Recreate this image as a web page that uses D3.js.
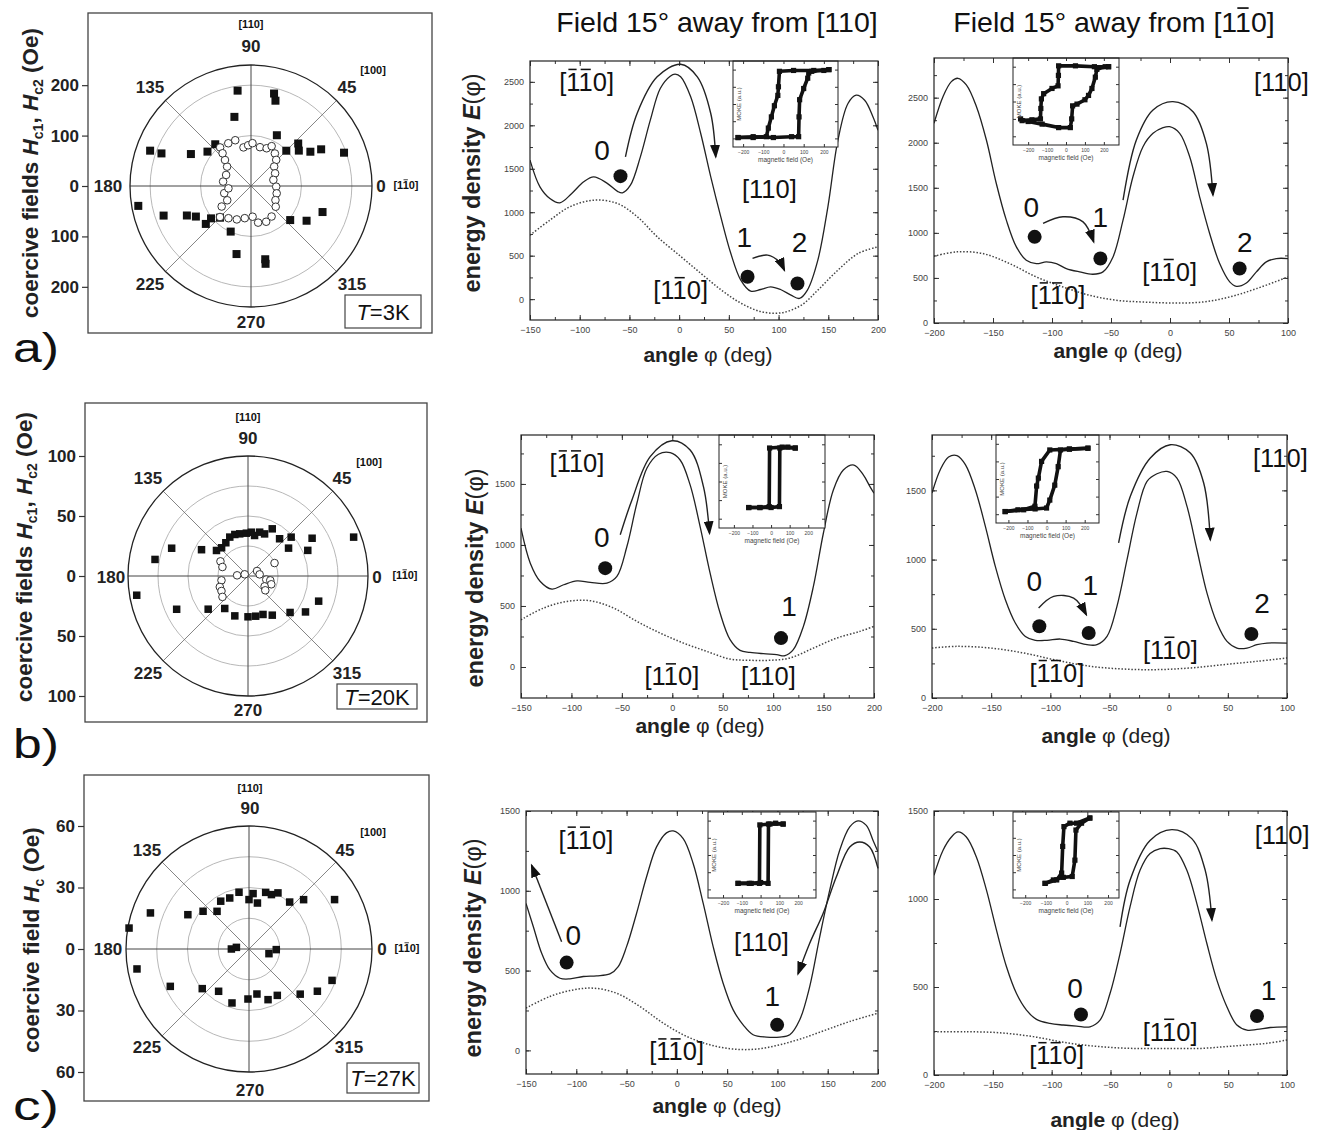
<!DOCTYPE html>
<html><head><meta charset="utf-8">
<script src="https://cdn.jsdelivr.net/npm/d3@7"></script>
<style>body{margin:0;background:#fff}</style>
</head><body><div id="chart"></div>
<script>
const FONT = "'Liberation Sans', Arial, Helvetica, sans-serif";

// ---- polar plots: [field angle (deg), coercive field (Oe)] ----
const hcA_sq = [[98,191],[76,189],[74,176],[103.5,141],[63,113],[130.6,109],[42,126],[45,99],[36.5,118],[30,136],[27.6,157],[19.7,196],[160.7,212],[160,189],[152,135],[141.7,110],[190,227],[198.7,183],[204.7,140],[209,125],[220,117],[219,102],[225.6,88],[246,99],[258,138],[281,148],[280.6,157],[319,103],[328,130],[340,151]];
const hcA_ci = [[128.7,98],[118,96],[109,96],[101,78],[94,81],[88,85],[77,79],[67.5,81],[62.6,89],[53.7,80],[46,72],[40,60],[27.7,54],[15.3,46],[358.5,50],[344,53],[330,56],[320,64],[304,73],[293,77],[281,74],[273,61],[259,65],[247,72],[235,78],[225,87],[215,71],[211,55],[195,55],[186,45],[171,56],[156,54],[141,61],[135,73],[131,86]];
const hcB_sq = [[141,33.8],[133.1,32.2],[123.7,33.3],[115.1,35.8],[107.6,36.3],[101.1,35.8],[92.2,35.7],[85.6,36.6],[80.8,34.2],[75.1,37.8],[68.5,37.7],[62.8,44.2],[49.7,40.7],[42,48.4],[34.5,41],[23.2,54.2],[30.5,62],[20.2,93.8],[150.5,44.5],[160,67.7],[169.9,78.7],[189.8,94.1],[205,65.6],[219.8,43.2],[234.4,33.3],[251.7,35],[270,34],[280.8,34.1],[291.3,34.4],[301.8,38.4],[319.1,46.4],[328,56.5],[340.4,62.5]];
const hcB_ci = [[152,26],[160.6,22.6],[189.3,22.4],[201.2,25.2],[209.5,25.4],[219.3,27.5],[176.5,9.1],[153,3.1],[29,8.6],[8,9.8],[349,15.5],[349,18.9],[340.4,20.6],[328,16.3],[320.4,18.7],[26,24.6]];
const hcC_sq = [[170.1,59.4],[159.9,51.2],[150.7,34.2],[140.6,29],[130.3,24.1],[120.6,27.1],[110.7,26.6],[100,28.1],[90,24.1],[85.8,27.1],[79.6,22.8],[73.6,28.8],[67.6,28.7],[62.7,30.8],[49.1,30.3],[42.1,35.9],[30,48.2],[190.1,55.5],[205.4,42.5],[220.3,29.9],[234.3,25.4],[252.5,27.6],[268.8,24.4],[280,22.3],[290.6,26.4],[301.4,26.5],[318.6,33.3],[328.3,39.2],[339.3,43.3],[180,8.6],[172.6,6.2],[346.8,10],[358.7,13.3]];
const ringsA = [100,200], ringsB = [25,50,75], ringsC = [15,30,45];
const yticksA = [200,100,0,-100,-200], yticksB = [100,50,0,-50,-100], yticksC = [60,30,0,-30,-60];

// ---- energy density curves: [angle phi (deg), E] ----
const xticksMid = [-150,-100,-50,0,50,100,150,200];
const xticksRight = [-200,-150,-100,-50,0,50,100];
const yticksTop = [0,500,1000,1500,2000,2500];
const yticksLow = [0,500,1000,1500];

const solidA1 = [[-150,1600],[-140,1292],[-130,1158],[-120,1108],[-108,1216],[-96,1350],[-86,1407],[-73,1338],[-62,1240],[-57,1223],[-49,1311],[-39,1637],[-29,2059],[-19,2423],[-9,2565],[-4,2588],[1.5,2558],[11.6,2328],[21.7,1906],[31.8,1407],[41.9,947],[52,525],[62,219],[72,92],[82,111],[92,142],[102,111],[112.5,46],[121,8],[129,104],[139.5,449],[149.6,1062],[159.7,1829],[169.8,2251],[178,2347],[186.6,2289],[195,2097],[200,1944]];
const dotA1 = [[-150,736],[-130,909],[-110,1062],[-86,1139],[-62,1100],[-42,947],[-22,717],[2,487],[22,295],[42.5,104],[62.7,-50],[83,-146],[103,-157],[123,-69],[139.5,104],[159.7,334],[180,525],[200,602]];
const arrowsA1 = [[[-54,1637],[-42.3,2136],[-22.1,2558],[1.5,2703],[18.3,2558],[31.8,2136],[36.8,1637]],[[73.8,468],[89,506],[100.7,430],[105.8,334]]];
const statesA1 = [{n:"0",p:[-59,1415],l:[-77.6,1714]},{n:"1",p:[68.8,257],l:[65.5,717]},{n:"2",p:[119,180],l:[121,660]}];
const dirsA1 = [{c:"-1-10",p:[-93,2500]},{c:"110",p:[90.7,1273]},{c:"1-10",p:[1.5,104]}];

const solidA2 = [[-200,2215],[-192.4,2511],[-185.3,2678],[-179.7,2715],[-172.6,2641],[-164,2400],[-155.6,2030],[-147.2,1548],[-138.7,1141],[-130.2,844],[-121.8,696],[-113.3,659],[-104.8,678],[-96.3,659],[-87.9,604],[-76.6,567],[-65.3,541],[-56.8,567],[-48.3,733],[-39.8,1141],[-31.4,1622],[-22.9,1956],[-14.4,2104],[-5.9,2167],[-0.3,2178],[8.2,2104],[16.7,1844],[25.1,1400],[33.6,993],[42.1,659],[50.6,456],[56.2,407],[64.7,444],[73.2,567],[81.6,678],[90.1,715],[100,715]];
const dotA2 = [[-200,741],[-181,789],[-158.5,770],[-135.9,659],[-113.3,511],[-90.7,400],[-68,307],[-45.5,252],[-22.9,233],[2.5,222],[28,233],[50.6,289],[73.2,381],[100,511]];
const arrowsA2 = [[[-39.8,1363],[-28.5,2030],[-14.4,2363],[2.5,2456],[19.5,2344],[30.8,1993],[36.4,1419]],[[-107.6,1104],[-90.7,1178],[-73.7,1122],[-64.7,900]]];
const statesA2 = [{n:"0",p:[-114.7,956],l:[-117.5,1289]},{n:"1",p:[-59,715],l:[-59,1178]},{n:"2",p:[59,604],l:[63.3,900]}];
const dirsA2 = [{c:"110",p:[94.4,2678]},{c:"1-10",p:[-0.3,567]},{c:"-1-10",p:[-94.9,307]}];

const solidB1 = [[-150,1137],[-140.8,851],[-130.9,701],[-119.3,638],[-107.7,674],[-94.5,706],[-81.3,693],[-64.8,687],[-54.9,742],[-45,987],[-35.1,1342],[-25.2,1628],[-13.7,1743],[-2.1,1756],[7.8,1696],[17.7,1492],[27.6,1151],[37.5,769],[47.4,442],[57.3,224],[67.2,136],[77.1,120],[90.3,109],[103.5,101],[111.8,93],[120,142],[130,333],[139.9,660],[149.8,1096],[159.7,1451],[169.6,1614],[180.1,1655],[189.4,1574],[196,1478],[200,1424]];
const dotB1 = [[-150,387],[-127.6,483],[-104.4,537],[-81.3,543],[-58.2,483],[-35.1,374],[-12,278],[11.1,196],[34.2,128],[57.3,65],[77.1,55],[96.9,55],[116.7,74],[139.9,155],[163,237],[186.1,292],[200,333]];
const arrowsB1 = [[[-51.6,1083],[-40,1369],[-21.9,1724],[-0.4,1854],[17.7,1778],[30.9,1478],[36.9,1096]]];
const statesB1 = [{n:"0",p:[-66.5,810],l:[-69.8,1069]},{n:"1",p:[107.8,237],l:[115.7,496]}];
const dirsB1 = [{c:"-1-10",p:[-94.5,1669]},{c:"1-10",p:[-0.4,-76]},{c:"110",p:[95.3,-76]}];

const solidB2 = [[-200,1481],[-193,1649],[-186,1741],[-178.9,1751],[-171.8,1686],[-163.4,1505],[-154.9,1240],[-146.5,951],[-138,710],[-129.6,542],[-121.1,445],[-112.7,417],[-102.8,417],[-91.5,426],[-80.3,409],[-69,385],[-60.6,385],[-52.1,445],[-43.7,662],[-35.2,999],[-26.8,1336],[-18.3,1565],[-9.9,1620],[-1.4,1637],[7,1589],[15.5,1384],[23.9,1071],[32.4,758],[40.8,542],[49.3,409],[57.7,361],[66.2,361],[74.6,385],[83.1,397],[100,397]];
const dotB2 = [[-200,361],[-178.9,373],[-150.7,361],[-122.5,325],[-94.4,272],[-66.2,229],[-38,209],[-9.9,205],[18.3,217],[46.5,241],[74.6,265],[100,289]];
const arrowsB2 = [[[-42.3,1120],[-32.4,1457],[-15.5,1734],[1.4,1830],[18.3,1770],[29.6,1553],[35.2,1144]],[[-109.9,650],[-97.2,734],[-80.3,722],[-69.6,602]]];
const statesB2 = [{n:"0",p:[-109.3,518],l:[-113.5,843]},{n:"1",p:[-67.6,470],l:[-66.2,819]},{n:"2",p:[69.9,462],l:[78.9,686]}];
const dirsB2 = [{c:"110",p:[94.4,1734]},{c:"1-10",p:[1.4,349]},{c:"-1-10",p:[-94.4,181]}];

const solidC1 = [[-150,921],[-142.7,775],[-134.4,608],[-126.2,504],[-116.2,452],[-106.3,448],[-93,463],[-79.8,467],[-66.6,479],[-58.3,525],[-50,650],[-40.1,858],[-30.1,1088],[-20.2,1275],[-10.3,1363],[-3.6,1375],[6.3,1327],[16.2,1171],[26.2,921],[36.1,650],[46,421],[56,254],[65.9,160],[75.8,98],[89.1,83],[102.3,83],[112.3,98],[122.2,192],[132.1,400],[142.1,713],[152,1004],[161.9,1254],[171.9,1400],[180.1,1438],[188.4,1410],[195,1317],[200,1244]];
const dotC1 = [[-150,265],[-126.2,338],[-103,379],[-83.1,390],[-59.9,358],[-36.8,275],[-13.6,171],[9.6,88],[32.8,35],[56,8],[79.1,8],[102.3,35],[125.5,77],[148.7,129],[171.9,181],[200,233]];
const arrowsC1 = [[[200,1140],[191.7,1275],[181.8,1306],[171.9,1275],[158.6,1088],[145.4,858],[132.1,671],[120.5,480]],[[-114.6,681],[-144.4,1160]]];
const statesC1 = [{n:"0",p:[-109.6,550],l:[-103,723]},{n:"1",p:[99.7,160],l:[95,338]}];
const dirsC1 = [{c:"-1-10",p:[-90.4,1321]},{c:"110",p:[84.1,681]},{c:"-1-10",p:[-0.3,-6]}];

const solidC2 = [[-200,1135],[-192.3,1277],[-185.2,1352],[-179.6,1381],[-172.5,1352],[-164,1239],[-155.4,1050],[-146.9,823],[-138.4,615],[-129.9,463],[-121.4,369],[-112.9,316],[-101.5,293],[-90.2,284],[-78.8,278],[-67.4,274],[-58.9,312],[-50.4,463],[-41.9,690],[-33.4,955],[-24.9,1163],[-16.4,1258],[-7.8,1286],[-0.7,1286],[6.4,1267],[14.9,1163],[23.4,974],[31.9,747],[40.4,539],[48.9,388],[57.4,284],[66,255],[74.5,259],[85.8,270],[100,274]];
const dotC2 = [[-200,246],[-172.5,246],[-144.1,240],[-115.7,218],[-87.3,183],[-58.9,161],[-30.5,151],[-2.2,151],[26.2,151],[54.6,165],[83,180],[100,199]];
const arrowsC2 = [[[-41.9,842],[-33.4,1107],[-16.4,1333],[2.1,1394],[19.1,1343],[30.5,1163],[36.2,880]]];
const statesC2 = [{n:"0",p:[-75.1,344],l:[-80.2,492]},{n:"1",p:[74.5,335],l:[84.4,482]}];
const dirsC2 = [{c:"110",p:[95.8,1362]},{c:"1-10",p:[0.7,246]},{c:"-1-10",p:[-95.8,113]}];

// ---- MOKE hysteresis insets: [field (Oe), signal (a.u.)], up and down branches ----
const loopA1 = [[[-225,0.11],[-150,0.12],[-50,0.11],[40,0.12],[75,0.12],[77,0.35],[80,0.55],[100,0.68],[120,0.8],[125,0.86],[140,0.88],[200,0.89],[225,0.9]],
                [[225,0.9],[150,0.89],[50,0.89],[-20,0.88],[-25,0.7],[-28,0.6],[-45,0.48],[-60,0.35],[-75,0.22],[-85,0.12],[-150,0.11],[-225,0.11]]];
const loopA2 = [[[-240,0.3],[-200,0.27],[-126,0.24],[-39,0.2],[23,0.2],[30,0.3],[35,0.45],[58,0.47],[100,0.52],[119,0.57],[137,0.65],[155,0.78],[163,0.87],[207,0.9],[225,0.9]],
                [[225,0.9],[150,0.9],[50,0.91],[-39,0.91],[-40,0.8],[-42,0.68],[-74,0.65],[-118,0.59],[-130,0.53],[-133,0.42],[-135,0.3],[-180,0.29],[-232,0.28]]];
const loopB1 = [[[-120,0.22],[-60,0.22],[0,0.22],[45,0.23],[47,0.86],[90,0.87],[130,0.86]],
                [[130,0.86],[60,0.87],[-8,0.86],[-10,0.23],[-60,0.22],[-120,0.22]]];
const loopB2 = [[[-217,0.13],[-150,0.15],[-60,0.16],[0,0.17],[17,0.26],[43,0.43],[61,0.64],[73,0.83],[120,0.84],[217,0.85]],
                [[217,0.85],[120,0.84],[17,0.83],[-26,0.7],[-43,0.51],[-52,0.42],[-61,0.19],[-120,0.15],[-217,0.13]]];
const loopC1 = [[[-120,0.17],[-50,0.17],[0,0.18],[40,0.17],[42,0.86],[80,0.87],[120,0.86]],
                [[120,0.86],[50,0.86],[-4,0.85],[-6,0.17],[-60,0.17],[-120,0.17]]];
const loopC2 = [[[-104,0.17],[-64,0.21],[-16,0.24],[27,0.25],[40,0.44],[45,0.79],[72,0.87],[112,0.93]],
                [[112,0.93],[48,0.87],[16,0.87],[-13,0.83],[-19,0.6],[-24,0.29],[-48,0.21],[-104,0.17]]];
const loopTicks = [-200,-100,0,100,200];

const svg = d3.select("#chart").append("svg").attr("width",1330).attr("height",1130)
  .style("background","#fff").attr("font-family",FONT);
const defs = svg.append("defs");
defs.append("marker").attr("id","head").attr("viewBox","0 0 14 10").attr("refX",12).attr("refY",5)
  .attr("markerWidth",14).attr("markerHeight",10).attr("markerUnits","userSpaceOnUse").attr("orient","auto")
  .append("path").attr("d","M0,0L14,5L0,10Z").attr("fill","#111");

// text like [1-10] with bars over the negative indices
function miller(g, x, y, code, size, o={}){
  let s = (o.prefix||"") + "[", bars = [];
  for(const ch of code){ if(ch==="-"){ bars.push(s.length); } else s += ch; }
  s += "]";
  const t = g.append("text").attr("x",x).attr("y",y).attr("font-size",size)
    .attr("text-anchor",o.anchor||"middle").attr("font-weight",o.weight||"normal").attr("fill","#111").text(s);
  const n = t.node();
  bars.forEach(i=>{
    const a = n.getStartPositionOfChar(i), b = n.getEndPositionOfChar(i);
    g.append("line").attr("x1",a.x+size*0.08).attr("x2",b.x-size*0.08)
      .attr("y1",y-size*0.84).attr("y2",y-size*0.84).attr("stroke","#111").attr("stroke-width",Math.max(0.8,size*0.06));
  });
}

function polarPanel(p){
  const g = svg.append("g");
  const r = d3.scaleLinear().domain([0,p.outer]).range([0,p.R]);
  const px = d=>p.cx + r(d[1])*Math.cos(d[0]*Math.PI/180);
  const py = d=>p.cy - r(d[1])*Math.sin(d[0]*Math.PI/180);
  g.append("rect").attr("x",p.box[0]).attr("y",p.box[1]).attr("width",p.box[2]-p.box[0]).attr("height",p.box[3]-p.box[1])
    .attr("fill","#fff").attr("stroke","#444").attr("stroke-width",1.3);
  g.selectAll(".ring").data(p.rings).enter().append("circle").attr("cx",p.cx).attr("cy",p.cy).attr("r",d=>r(d))
    .attr("fill","none").attr("stroke","#b8b8b8").attr("stroke-width",1);
  [0,45,90,135].forEach(a=>{
    const c = Math.cos(a*Math.PI/180)*p.R, s = Math.sin(a*Math.PI/180)*p.R;
    g.append("line").attr("x1",p.cx-c).attr("y1",p.cy+s).attr("x2",p.cx+c).attr("y2",p.cy-s)
      .attr("stroke",a%90===0?"#444":"#666").attr("stroke-width",a%90===0?1:0.8);
  });
  g.append("circle").attr("cx",p.cx).attr("cy",p.cy).attr("r",p.R).attr("fill","none").attr("stroke","#222").attr("stroke-width",1.3);
  g.selectAll(".sq").data(p.sq).enter().append("rect")
    .attr("x",d=>px(d)-p.ms/2).attr("y",d=>py(d)-p.ms/2).attr("width",p.ms).attr("height",p.ms).attr("fill","#111");
  g.selectAll(".ci").data(p.ci||[]).enter().append("circle").attr("cx",px).attr("cy",py).attr("r",3.8)
    .attr("fill","#fff").attr("stroke","#333").attr("stroke-width",1);
  // left radial axis
  const ys = d3.scaleLinear().domain([-p.outer,p.outer]).range([p.cy+p.R,p.cy-p.R]);
  const ax = g.append("g").attr("transform",`translate(${p.box[0]},0)`)
    .call(d3.axisLeft(ys).tickValues(p.yt).tickSize(6).tickSizeOuter(0).tickPadding(3).tickFormat(d=>Math.abs(d)));
  ax.select(".domain").remove();
  ax.selectAll("line").attr("stroke","#333").attr("stroke-width",1.2);
  ax.selectAll("text").attr("font-size",17).attr("font-weight","bold").attr("fill","#222").attr("font-family",FONT);
  // angle labels
  const lab = (t,x,y,fs)=>g.append("text").attr("x",x).attr("y",y).attr("text-anchor","middle").attr("dominant-baseline","central")
    .attr("font-size",fs).attr("font-weight","bold").attr("fill","#222").text(t);
  p.angleLabels.forEach(d=>lab(d[0],d[1],d[2],17));
  miller(g,p.dir90[0],p.dir90[1]+4,"110",11,{weight:"bold"});
  miller(g,p.dir45[0],p.dir45[1]+4,"100",11,{weight:"bold"});
  miller(g,p.dir0[0],p.dir0[1]+4,"1-10",11,{weight:"bold"});
  // temperature box
  const tb = p.tbox;
  g.append("rect").attr("x",tb[0]).attr("y",tb[1]).attr("width",tb[2]-tb[0]).attr("height",tb[3]-tb[1]).attr("fill","#fff").attr("stroke","#444").attr("stroke-width",1.2);
  const tt = g.append("text").attr("x",(tb[0]+tb[2])/2).attr("y",(tb[1]+tb[3])/2+8).attr("text-anchor","middle").attr("font-size",22).attr("fill","#111");
  tt.append("tspan").attr("font-style","italic").text("T");
  tt.append("tspan").text("="+p.T);
  // y title
  const t = g.append("text").attr("transform",`translate(${p.title[0]},${p.title[1]}) rotate(-90)`).attr("text-anchor","middle")
    .attr("font-size",22.5).attr("font-weight","bold").attr("fill","#222").attr("dy",8);
  if(p.two){
    t.append("tspan").text("coercive fields ");
    t.append("tspan").attr("font-style","italic").text("H");
    t.append("tspan").attr("font-size",14).attr("dy",5).text("c1");
    t.append("tspan").attr("dy",-5).text(", ");
    t.append("tspan").attr("font-style","italic").text("H");
    t.append("tspan").attr("font-size",14).attr("dy",5).text("c2");
    t.append("tspan").attr("dy",-5).text(" (Oe)");
  } else {
    t.append("tspan").text("coercive field ");
    t.append("tspan").attr("font-style","italic").text("H");
    t.append("tspan").attr("font-size",14).attr("dy",5).text("c");
    t.append("tspan").attr("dy",-5).text(" (Oe)");
  }
  svg.append("text").attr("x",p.letter[0]).attr("y",p.letter[1]).attr("font-size",40).attr("fill","#111")
    .attr("textLength",46).attr("lengthAdjust","spacingAndGlyphs").text(p.letterText);
}

function inset(g, b, xd, loop){
  const x = d3.scaleLinear().domain(xd).range([b[0],b[2]]);
  const y = d3.scaleLinear().domain([0,1]).range([b[3],b[1]]);
  g.append("rect").attr("x",b[0]).attr("y",b[1]).attr("width",b[2]-b[0]).attr("height",b[3]-b[1]).attr("fill","#fff").attr("stroke","#222").attr("stroke-width",1);
  const yt = [0.1,0.3,0.5,0.7,0.9];
  const tk = (axis,tr)=>{const a=g.append("g").attr("transform",tr).call(axis); a.select(".domain").remove(); a.selectAll("line").attr("stroke","#333"); return a;};
  const bx = tk(d3.axisBottom(x).tickValues(loopTicks).tickSize(-3).tickPadding(3).tickFormat(d3.format("d")),`translate(0,${b[3]})`);
  bx.selectAll("text").attr("font-size",5).attr("fill","#444").attr("font-family",FONT);
  tk(d3.axisTop(x).tickValues(loopTicks).tickSize(-3).tickFormat(""),`translate(0,${b[1]})`);
  tk(d3.axisLeft(y).tickValues(yt).tickSize(-3).tickFormat(""),`translate(${b[0]},0)`);
  tk(d3.axisRight(y).tickValues(yt).tickSize(-3).tickFormat(""),`translate(${b[2]},0)`);
  const ln = d3.line().x(d=>x(d[0])).y(d=>y(d[1]));
  loop.forEach(br=>{
    g.append("path").datum(br).attr("d",ln).attr("fill","none").attr("stroke","#111").attr("stroke-width",3.6).attr("stroke-linejoin","round");
    g.selectAll(null).data(br).enter().append("rect").attr("x",d=>x(d[0])-2.6).attr("y",d=>y(d[1])-2.6).attr("width",5.2).attr("height",5.2).attr("fill","#111");
  });
  g.append("text").attr("x",(b[0]+b[2])/2).attr("y",b[3]+15).attr("text-anchor","middle").attr("font-size",6.5).attr("fill","#444").text("magnetic field (Oe)");
  g.append("text").attr("transform",`translate(${b[0]+8},${(b[1]+b[3])/2}) rotate(-90)`).attr("text-anchor","middle").attr("font-size",6).attr("fill","#444").text("MOKE (a.u.)");
}

function energyPanel(p){
  const g = svg.append("g");
  const x = d3.scaleLinear().domain(p.xd).range([p.x0,p.x1]);
  const y = d3.scaleLinear().domain(p.yd).range([p.y1,p.y0]);
  const id = "clip"+p.id;
  defs.append("clipPath").attr("id",id).append("rect").attr("x",p.x0).attr("y",p.y0).attr("width",p.x1-p.x0).attr("height",p.y1-p.y0);
  const ax = (axis,tr)=>{const a=g.append("g").attr("transform",tr).call(axis); a.select(".domain").remove();
    a.selectAll("line").attr("stroke","#333"); a.selectAll("text").attr("font-size",9).attr("fill","#444").attr("font-family",FONT); return a;};
  const minX = d3.range(p.xt[0],p.xd[1]+1,25), minY = d3.range(0,p.yd[1],250);
  ax(d3.axisBottom(x).tickValues(p.xt).tickSize(-5).tickPadding(7).tickFormat(d3.format("d")),`translate(0,${p.y1})`);
  ax(d3.axisBottom(x).tickValues(minX).tickSize(-3).tickFormat(""),`translate(0,${p.y1})`);
  ax(d3.axisTop(x).tickValues(p.xt).tickSize(-5).tickFormat(""),`translate(0,${p.y0})`);
  ax(d3.axisTop(x).tickValues(minX).tickSize(-3).tickFormat(""),`translate(0,${p.y0})`);
  ax(d3.axisLeft(y).tickValues(p.yt).tickSize(-5).tickPadding(6).tickFormat(d3.format("d")),`translate(${p.x0},0)`);
  ax(d3.axisLeft(y).tickValues(minY).tickSize(-3).tickFormat(""),`translate(${p.x0},0)`);
  ax(d3.axisRight(y).tickValues(p.yt).tickSize(-5).tickFormat(""),`translate(${p.x1},0)`);
  ax(d3.axisRight(y).tickValues(minY).tickSize(-3).tickFormat(""),`translate(${p.x1},0)`);

  const line = d3.line().x(d=>x(d[0])).y(d=>y(d[1])).curve(d3.curveCatmullRom.alpha(0.5));
  const cg = g.append("g").attr("clip-path",`url(#${id})`);
  cg.append("path").datum(p.dotted).attr("d",line).attr("fill","none").attr("stroke","#444").attr("stroke-width",1.5).attr("stroke-dasharray","1.5,1.8");
  cg.append("path").datum(p.solid).attr("d",line).attr("fill","none").attr("stroke","#222").attr("stroke-width",1.3);
  p.arrows.forEach(a=>g.append("path").datum(a).attr("d",line).attr("fill","none").attr("stroke","#222").attr("stroke-width",1.4).attr("marker-end","url(#head)"));
  p.states.forEach(s=>{
    g.append("circle").attr("cx",x(s.p[0])).attr("cy",y(s.p[1])).attr("r",7).attr("fill","#111");
    g.append("text").attr("x",x(s.l[0])).attr("y",y(s.l[1])+10).attr("text-anchor","middle").attr("font-size",28).attr("fill","#111").text(s.n);
  });
  p.dirs.forEach(d=>miller(g,x(d.p[0]),y(d.p[1])+9,d.c,25.5));
  inset(g,p.inset,p.loopX,p.loop);
  g.append("rect").attr("x",p.x0).attr("y",p.y0).attr("width",p.x1-p.x0).attr("height",p.y1-p.y0).attr("fill","none").attr("stroke","#222").attr("stroke-width",1.2);
  // axis titles
  const xt = g.append("text").attr("x",p.xl[0]).attr("y",p.xl[1]).attr("text-anchor","middle").attr("font-size",21).attr("fill","#222");
  xt.append("tspan").attr("font-weight","bold").text("angle ");
  xt.append("tspan").text("\u03C6 (deg)");
  if(p.yl){
    const yt = g.append("text").attr("transform",`translate(${p.yl[0]},${p.yl[1]}) rotate(-90)`).attr("text-anchor","middle")
      .attr("dy",8).attr("font-size",23.5).attr("font-weight","bold").attr("fill","#222");
    yt.append("tspan").text("energy density ");
    yt.append("tspan").attr("font-style","italic").text("E");
    yt.append("tspan").attr("font-weight","normal").text("(\u03C6)");
  }
}

polarPanel({box:[88,13,432,333],cx:251,cy:186,R:121,outer:240,rings:ringsA,sq:hcA_sq,ci:hcA_ci,ms:8,yt:yticksA,
  angleLabels:[["90",251,46],["135",150,87],["45",347,87],["180",108,186],["0",381,186],["225",150,284],["315",352,284],["270",251,322]],
  dir90:[251,24],dir45:[373,70],dir0:[406,185],tbox:[345,295,421,328],T:"3K",title:[30,173],two:true,letter:[13,362],letterText:"a)"});
polarPanel({box:[85,403,427,722],cx:248,cy:576,R:120,outer:100,rings:ringsB,sq:hcB_sq,ci:hcB_ci,ms:7.5,yt:yticksB,
  angleLabels:[["90",248,438],["135",148,478],["45",342,478],["180",111,577],["0",377,577],["225",148,673],["315",347,673],["270",248,710]],
  dir90:[248,417],dir45:[369,462],dir0:[405,575],tbox:[337,684,417,709],T:"20K",title:[24,557],two:true,letter:[13,758],letterText:"b)"});
polarPanel({box:[84,775,429,1101],cx:249,cy:949,R:123,outer:60,rings:ringsC,sq:hcC_sq,ci:[],ms:7.5,yt:yticksC,
  angleLabels:[["90",250,808],["135",147,850],["45",345,850],["180",108,949],["0",382,949],["225",147,1047],["315",349,1047],["270",250,1090]],
  dir90:[250,788],dir45:[373,832],dir0:[407,948],tbox:[347,1063,419,1093],T:"27K",title:[31,940],two:false,letter:[13,1120],letterText:"c)"});

energyPanel({id:"A1",x0:530,x1:878,y0:61,y1:320,xd:[-150,200],yd:[-240,2740],xt:xticksMid,yt:yticksTop,
  solid:solidA1,dotted:dotA1,arrows:arrowsA1,states:statesA1,dirs:dirsA1,inset:[733,61,838,147],loopX:[-250,270],loop:loopA1,xl:[708,362],yl:[472,183]});
energyPanel({id:"A2",x0:934,x1:1288,y0:58,y1:323,xd:[-200,100],yd:[0,2940],xt:xticksRight,yt:yticksTop,
  solid:solidA2,dotted:dotA2,arrows:arrowsA2,states:statesA2,dirs:dirsA2,inset:[1013,58,1119,145],loopX:[-280,280],loop:loopA2,xl:[1118,358]});
energyPanel({id:"B1",x0:521,x1:874,y0:435,y1:698,xd:[-150,200],yd:[-254,1901],xt:xticksMid,yt:yticksLow,
  solid:solidB1,dotted:dotB1,arrows:arrowsB1,states:statesB1,dirs:dirsB1,inset:[719,435,825,528],loopX:[-280,290],loop:loopB1,xl:[700,733],yl:[475,578]});
energyPanel({id:"B2",x0:932,x1:1287,y0:435,y1:698,xd:[-200,100],yd:[0,1900],xt:xticksRight,yt:yticksLow,
  solid:solidB2,dotted:dotB2,arrows:arrowsB2,states:statesB2,dirs:dirsB2,inset:[996,435,1099,523],loopX:[-265,275],loop:loopB2,xl:[1106,743]});
energyPanel({id:"C1",x0:526,x1:878,y0:811,y1:1074,xd:[-150,200],yd:[-148,1500],xt:xticksMid,yt:yticksLow,
  solid:solidC1,dotted:dotC1,arrows:arrowsC1,states:statesC1,dirs:dirsC1,inset:[708,812,816,898],loopX:[-280,295],loop:loopC1,xl:[717,1113],yl:[473,948]});
energyPanel({id:"C2",x0:934,x1:1287,y0:811,y1:1075,xd:[-200,100],yd:[0,1500],xt:xticksRight,yt:yticksLow,
  solid:solidC2,dotted:dotC2,arrows:arrowsC2,states:statesC2,dirs:dirsC2,inset:[1013,812,1119,898],loopX:[-259,253],loop:loopC2,xl:[1115,1127]});

// column titles
miller(svg,717,32,"110",28.5,{prefix:"Field 15\u00B0 away from "});
miller(svg,1114,32,"1-10",28.5,{prefix:"Field 15\u00B0 away from "});
</script></body></html>
